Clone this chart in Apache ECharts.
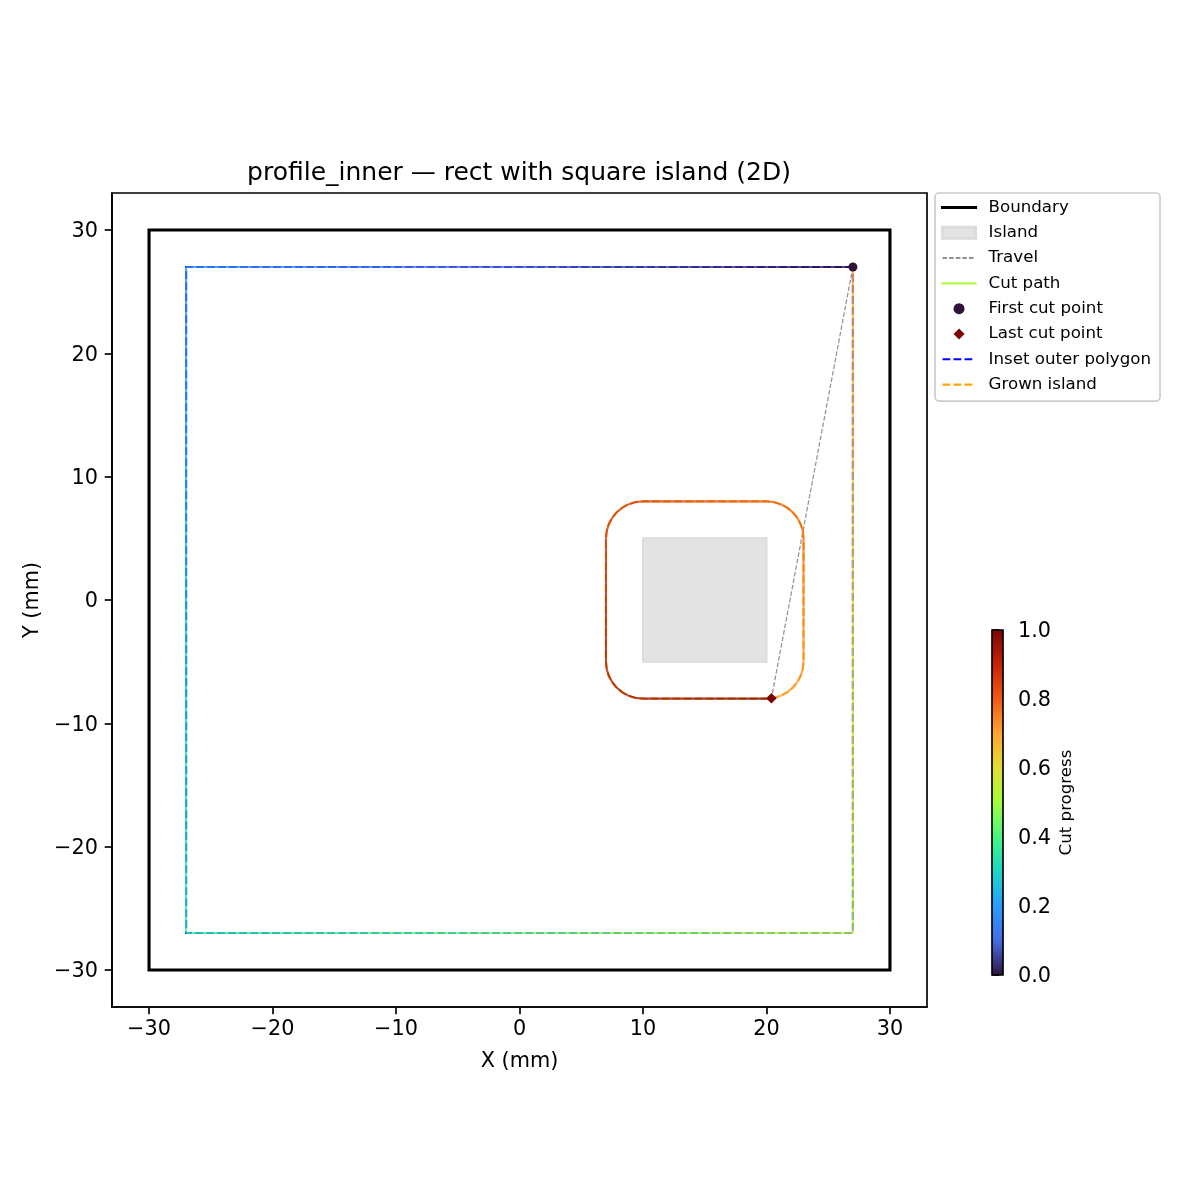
<!DOCTYPE html>
<html>
<head>
<meta charset="utf-8">
<title>profile_inner</title>
<script src="https://cdn.jsdelivr.net/npm/echarts@6/dist/echarts.min.js"></script>
<style>
  html, body { margin: 0; padding: 0; background: #fff; }
  #chart { width: 1200px; height: 1200px; }
</style>
</head>
<body>
<div id="chart"></div>
<script>
// tick labels
const xyTicks = [-30, -20, -10, 0, 10, 20, 30]
const cbTicks = [0, 0.2, 0.4, 0.6, 0.8, 1]

// outlines (mm)
const boundaryX = [-30, 30, 30, -30, -30]
const boundaryY = [-30, -30, 30, 30, -30]
const islandX = [10, 20, 20, 10]
const islandY = [-5, -5, 5, 5]
const insetX = [27, -27, -27, 27, 27]
const insetY = [27, 27, -27, -27, 27]
const grownX = [
  20.4, 20.59, 21.15, 21.67, 22.12, 22.49, 22.77, 22.94, 23,
  23, 22.94, 22.77, 22.49, 22.12, 21.67, 21.15, 20.59, 20,
  10, 9.41, 8.85, 8.33, 7.88, 7.51, 7.23, 7.06, 7,
  7, 7.06, 7.23, 7.51, 7.88, 8.33, 8.85, 9.41, 10,
  20, 20.4
]
const grownY = [
  -7.97, -7.94, -7.77, -7.49, -7.12, -6.67, -6.15, -5.59, -5,
  5, 5.59, 6.15, 6.67, 7.12, 7.49, 7.77, 7.94, 8,
  8, 7.94, 7.77, 7.49, 7.12, 6.67, 6.15, 5.59, 5,
  -5, -5.59, -6.15, -6.67, -7.12, -7.49, -7.77, -7.94, -8,
  -8, -7.97
]
const travelX = [27, 20.4]
const travelY = [27, -7.97]

// cut path progress: outer loop, then island loop along grownX/grownY
const cutX = [27, -27, -27, 27, 27]
const cutY = [27, 27, -27, -27, 27]
const cutT = [0, 0.175, 0.35, 0.525, 0.7]
const cutIslandT = [
  0.7, 0.701, 0.704, 0.707, 0.71, 0.713, 0.716, 0.719, 0.722,
  0.773, 0.776, 0.779, 0.782, 0.785, 0.788, 0.791, 0.794, 0.797,
  0.848, 0.851, 0.854, 0.857, 0.86, 0.863, 0.866, 0.869, 0.872,
  0.923, 0.926, 0.929, 0.932, 0.935, 0.938, 0.941, 0.944, 0.947,
  0.998, 1
]

// turbo colormap, one stop every 0.1
const turboStops = ['#30123b', '#466be3', '#289cfe', '#1ad7c7', '#46f783', '#a4fc3c', '#e1dd37', '#fea531', '#ef5a11', '#c22403', '#7a0403']

const FONT = 'DejaVu Sans'
const zip = (xs, ys) => xs.map((x, i) => [x, ys[i]])

const hexRgb = (h) => [1, 3, 5].map(i => parseInt(h.slice(i, i + 2), 16))
const turbo = (t) => {
  const p = Math.min(Math.max(t, 0), 1) * (turboStops.length - 1)
  const i = Math.min(Math.floor(p), turboStops.length - 2)
  const a = hexRgb(turboStops[i])
  const b = hexRgb(turboStops[i + 1])
  const c = a.map((v, k) => Math.round(v + (b[k] - v) * (p - i)))
  return 'rgb(' + c.join(',') + ')'
}

// cut path segments: [x, y, t, nextX, nextY, nextT]
const segments = (xs, ys, ts) => xs.slice(0, -1).map((x, i) => [x, ys[i], ts[i], xs[i + 1], ys[i + 1], ts[i + 1]])
const cutData = segments(cutX, cutY, cutT).concat(segments(grownX, grownY, cutIslandT))

const renderCut = (params, api) => {
  const a = api.coord([api.value(0), api.value(1)])
  const b = api.coord([api.value(3), api.value(4)])
  const t0 = api.value(2)
  const t1 = api.value(5)
  const stops = [0, 0.125, 0.25, 0.375, 0.5, 0.625, 0.75, 0.875, 1].map(o => ({ offset: o, color: turbo(t0 + (t1 - t0) * o) }))
  return {
    type: 'line',
    shape: { x1: a[0], y1: a[1], x2: b[0], y2: b[1] },
    style: {
      stroke: new echarts.graphic.LinearGradient(a[0], a[1], b[0], b[1], stops, true),
      lineWidth: 2.1,
      opacity: 0.8,
      lineCap: 'butt'
    }
  }
}

const renderIsland = (params, api) => {
  if (params.dataIndex > 0) return null
  return {
    type: 'polygon',
    shape: { points: zip(islandX, islandY).map(p => api.coord(p)) },
    style: { fill: '#e3e3e3', stroke: '#dcdcdc', lineWidth: 2 }
  }
}

const renderColorbar = (params, api) => {
  const a = api.coord([0, api.value(0)])
  const b = api.coord([1, api.value(1)])
  return {
    type: 'rect',
    shape: { x: a[0], y: b[1], width: b[0] - a[0], height: a[1] - b[1] },
    style: {
      fill: new echarts.graphic.LinearGradient(0, 1, 0, 0, turboStops.map((c, i) => ({ offset: i / (turboStops.length - 1), color: c }))),
      stroke: '#000',
      lineWidth: 1.67
    }
  }
}

const plainLine = (name, data, z, lineStyle) => ({
  name, type: 'line', data, z, symbol: 'none', silent: true,
  lineStyle: Object.assign({ join: 'miter', cap: 'square' }, lineStyle)
})

// line series always add a marker to their legend key, hide it
const noMarker = { opacity: 0 }

const chart = echarts.init(document.getElementById('chart'))
chart.setOption({
  animation: false,
  backgroundColor: '#fff',
  textStyle: { fontFamily: FONT },
  title: {
    text: 'profile_inner — rect with square island (2D)',
    left: 514,
    top: 156,
    textAlign: 'center',
    textStyle: { fontFamily: FONT, fontSize: 25, fontWeight: 'normal', color: '#000' }
  },
  legend: {
    data: [
      { name: 'Boundary', itemStyle: noMarker, lineStyle: { width: 3.1 } },
      { name: 'Island', icon: 'rect', itemStyle: { color: '#e3e3e3', borderColor: '#dcdcdc', borderWidth: 3 } },
      { name: 'Travel', itemStyle: noMarker },
      { name: 'Cut path', itemStyle: noMarker, lineStyle: { width: 2.1 } },
      { name: 'First cut point', icon: 'circle' },
      { name: 'Last cut point', icon: 'path://M5 0L10 5L5 10L0 5Z' },
      { name: 'Inset outer polygon', itemStyle: noMarker, lineStyle: { width: 2.1 } },
      { name: 'Grown island', itemStyle: noMarker, lineStyle: { width: 2.1 } }
    ],
    orient: 'vertical',
    left: 935,
    top: 193,
    padding: [6, 9, 8, 6],
    itemWidth: 33,
    itemHeight: 11,
    itemGap: 8.3,
    selectedMode: false,
    backgroundColor: '#fff',
    borderColor: '#cccccc',
    borderWidth: 1.67,
    borderRadius: 4,
    textStyle: { fontFamily: FONT, fontSize: 16.67, color: '#000', lineHeight: 17, padding: [0, 0, 0, 8] }
  },
  grid: [
    { left: 112, top: 193, width: 815, height: 814, show: true, borderColor: '#000', borderWidth: 1.67, backgroundColor: '#fff' },
    { left: 992, top: 630, width: 11, height: 345 }
  ],
  xAxis: [
    {
      type: 'value',
      gridIndex: 0,
      min: -33,
      max: 33,
      name: 'X (mm)',
      nameLocation: 'middle',
      nameGap: 44,
      nameTextStyle: { fontFamily: FONT, fontSize: 20.8, color: '#000' },
      splitLine: { show: false },
      axisLine: { onZero: false, lineStyle: { color: '#000', width: 1.67 } },
      axisTick: { customValues: xyTicks, length: 7.3, lineStyle: { color: '#000', width: 1.67 } },
      axisLabel: {
        customValues: xyTicks,
        margin: 12,
        fontFamily: FONT,
        fontSize: 20.8,
        color: '#000',
        formatter: v => String(v).replace('-', '\u2212')
      }
    },
    { type: 'value', gridIndex: 1, min: 0, max: 1, show: false }
  ],
  yAxis: [
    {
      type: 'value',
      gridIndex: 0,
      min: -33,
      max: 33,
      name: 'Y (mm)',
      nameLocation: 'middle',
      nameGap: 61,
      nameRotate: 90,
      nameTextStyle: { fontFamily: FONT, fontSize: 20.8, color: '#000' },
      splitLine: { show: false },
      axisLine: { onZero: false, lineStyle: { color: '#000', width: 1.67 } },
      axisTick: { customValues: xyTicks, length: 7.3, lineStyle: { color: '#000', width: 1.67 } },
      axisLabel: {
        customValues: xyTicks,
        margin: 14,
        verticalAlign: 'top',
        lineHeight: 4,
        fontFamily: FONT,
        fontSize: 20.8,
        color: '#000',
        formatter: v => String(v).replace('-', '\u2212')
      }
    },
    {
      type: 'value',
      gridIndex: 1,
      position: 'right',
      min: 0,
      max: 1,
      name: 'Cut progress',
      nameLocation: 'middle',
      nameGap: 55,
      nameRotate: 90,
      nameTextStyle: { fontFamily: FONT, fontSize: 16.67, color: '#000' },
      splitLine: { show: false },
      axisLine: { show: false },
      axisTick: { show: true, customValues: cbTicks, length: 7.3, lineStyle: { color: '#000', width: 1.67 } },
      axisLabel: {
        customValues: cbTicks,
        margin: 15,
        verticalAlign: 'top',
        lineHeight: 4,
        fontFamily: FONT,
        fontSize: 20.8,
        color: '#000',
        formatter: v => v.toFixed(1)
      }
    }
  ],
  series: [
    plainLine('Boundary', zip(boundaryX, boundaryY), 3, { color: '#000', width: 3.1 }),
    {
      name: 'Island',
      type: 'custom',
      z: 2,
      silent: true,
      renderItem: renderIsland,
      encode: { x: 0, y: 1 },
      data: zip(islandX, islandY)
    },
    plainLine('Travel', zip(travelX, travelY), 4, { color: '#808080', width: 1.25, type: [4.6, 2], opacity: 0.85, cap: 'butt' }),
    // legend entry only, the colored path is the custom series below
    plainLine('Cut path', [], 5, { color: '#b4f84a', width: 2.1 }),
    {
      name: 'Cut path segments',
      type: 'custom',
      z: 6,
      silent: true,
      renderItem: renderCut,
      encode: { x: 0, y: 1 },
      data: cutData
    },
    {
      name: 'First cut point',
      type: 'scatter',
      z: 7,
      symbol: 'circle',
      symbolSize: 9,
      itemStyle: { color: turboStops[0], opacity: 1 },
      data: [[cutX[0], cutY[0]]]
    },
    {
      name: 'Last cut point',
      type: 'scatter',
      z: 7,
      symbol: 'diamond',
      symbolSize: 10.5,
      itemStyle: { color: turboStops[10], opacity: 1 },
      data: [[grownX[37], grownY[37]]]
    },
    plainLine('Inset outer polygon', zip(insetX, insetY), 5, { color: '#0000ff', width: 2.1, type: [7.7, 3.3], cap: 'butt' }),
    plainLine('Grown island', zip(grownX, grownY), 5, { color: '#ffa500', width: 2.1, type: [7.7, 3.3], cap: 'butt' }),
    {
      name: 'Colorbar',
      type: 'custom',
      xAxisIndex: 1,
      yAxisIndex: 1,
      silent: true,
      renderItem: renderColorbar,
      encode: { y: [0, 1] },
      data: [[0, 1]]
    }
  ]
})
</script>
</body>
</html>
